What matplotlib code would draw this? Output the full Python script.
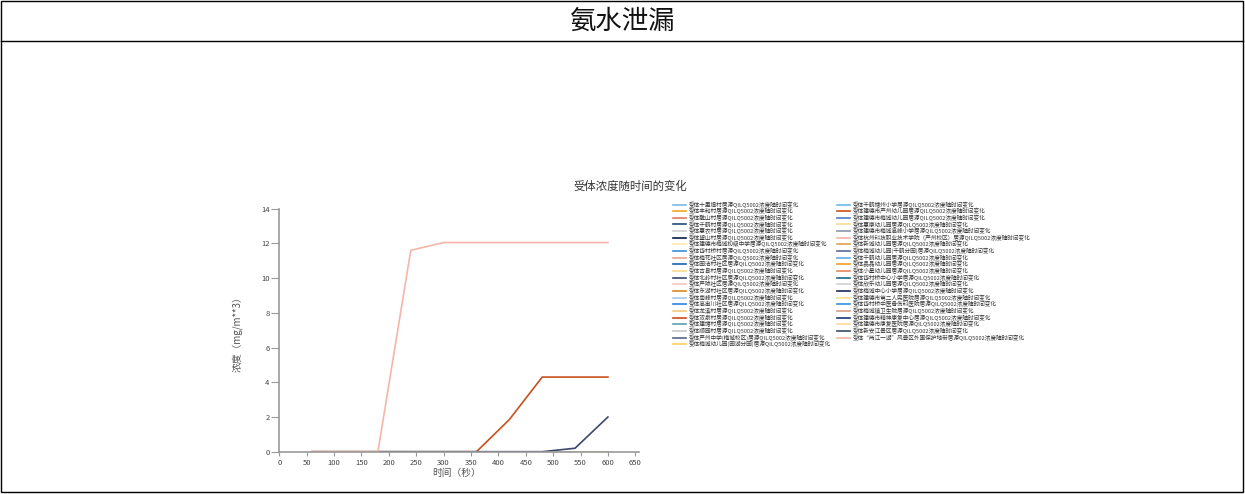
import numpy as np
import matplotlib
matplotlib.use("Agg")
import matplotlib.pyplot as plt
from matplotlib.lines import Line2D
from matplotlib.patches import Rectangle

plt.rcParams['font.family'] = ['Noto Sans CJK SC', 'DejaVu Sans']

# --- Datos ---
page_title = "氨水泄漏"
chart_title = "受体浓度随时间的变化"
x_label = "时间（秒）"
y_label = "浓度（mg/m**3）"

times = [60, 120, 180, 240, 300, 360, 420, 480, 540, 600]

receptors = [
    "十里埠村", "丰和村", "雕山村", "千鹤村", "惠农村", "望山村",
    "建德市梅城初级中学", "岱村桥村", "梅花社区", "园洁村社区", "古县村",
    "北岭村社区", "严陵社区", "东湖村社区", "南峰村", "高串川社区",
    "龙溪村", "双泉村", "建塘村", "顺园村", "严州中学(梅城校区)",
    "梅城幼儿园(园湖分园)",
    "千鹤塘州小学", "建德市严州幼儿园", "建德市梅城幼儿园", "惠康幼儿园",
    "建德市梅城高峰小学", "杭州科技职业技术学院（严州校区）", "新城幼儿园",
    "梅城幼儿园(千鹤分园)", "千鹤幼儿园", "晶晶幼儿园", "小星幼儿园",
    "岱村桥中心小学", "欣乐幼儿园", "梅城中心小学", "建德市第二人民医院",
    "岱村桥中医骨伤科医院", "梅城镇卫生院", "建德市精神康复中心",
    "建德市康复医院", "新安江景区", "“两江一湖”风景区外围保护地带",
]

colors = [
    "#7fb8e8", "#f5a623", "#e07b5a", "#1f4e79", "#cfcfcf", "#0b1a4b",
    "#fde7a8", "#3a8fd9", "#e8a58c", "#1a5fb4", "#f7d98b",
    "#3b4a6b", "#f5c6c0", "#d98a1e", "#a8c8e8", "#2a84e0",
    "#f5c77e", "#d04a1a", "#5aa0b8", "#c8c8c8", "#556688",
    "#f5d060",
    "#6cb8e6", "#c8501e", "#4a7fd0", "#f3dc9a",
    "#8a96a8", "#f3b0a8", "#e0a050",
    "#5a6a9a", "#6aa8e0", "#f5a020", "#e08860",
    "#1a6a8a", "#d0d0d0", "#1a2a5a", "#f8e08a",
    "#3090e0", "#d8a080", "#1a3a7a",
    "#f8dca0", "#3a4a6a", "#f4b6a8",
]

# series distintas de cero
nonzero = {
    "“两江一湖”风景区外围保护地带": [0, 0, 0, 11.6, 12.05, 12.05, 12.05, 12.05, 12.05, 12.05],
    "建德市严州幼儿园": [0, 0, 0, 0, 0, 0, 1.85, 4.3, 4.3, 4.3],
    "新安江景区": [0, 0, 0, 0, 0, 0, 0, 0, 0.2, 2.0],
}

W, H = 1245, 494
fig = plt.figure(figsize=(W / 100, H / 100), dpi=100)

def fx(px):
    return px / W

def fy(py):
    return 1 - py / H

# --- Marco tipo tabla ---
fig.add_artist(Rectangle((fx(1), fy(492)), fx(1242), 491 / H, transform=fig.transFigure,
                         fill=False, edgecolor="black", linewidth=1))
fig.add_artist(Line2D([fx(1), fx(1243)], [fy(41), fy(41)], transform=fig.transFigure,
                      color="black", linewidth=1))
fig.text(fx(622), fy(21), page_title, ha="center", va="center", fontsize=19, color="#111111")

# --- Ejes ---
ax = fig.add_axes([fx(279.3), fy(451.7), 359.3 / W, 243 / H])
for name, col in zip(receptors, colors):
    vals = nonzero.get(name, [0] * len(times))
    ax.plot(times, vals, color=col, linewidth=1.2, label=f"受体{name}居源QILQ5002浓度随时间变化")

ax.set_xlim(0, 656)
ax.set_ylim(0, 14)
ax.set_xticks(np.arange(0, 651, 50))
ax.set_yticks(np.arange(0, 15, 2))
for s in ["top", "right"]:
    ax.spines[s].set_visible(False)
for s in ["left", "bottom"]:
    ax.spines[s].set_color("#999999")
    ax.spines[s].set_linewidth(1.2)
ax.tick_params(axis="y", length=6, width=0.8, color="#999999", labelsize=5.5, labelcolor="#444444", pad=1)
ax.tick_params(axis="x", length=3, width=0.8, color="#999999", labelsize=5.5, labelcolor="#444444", pad=2)
ax.set_facecolor("none")

fig.text(fx(457), fy(473), x_label, ha="center", va="center", fontsize=7, color="#555555")
fig.text(fx(237), fy(332), y_label, ha="center", va="center", fontsize=7, color="#555555", rotation=90)
fig.text(fx(630), fy(186), chart_title, ha="center", va="center", fontsize=8.2, color="#333333")

# --- Leyenda manual en dos columnas ---
n_left = (len(receptors) + 1) // 2
for i, (name, col) in enumerate(zip(receptors, colors)):
    c, r = divmod(i, n_left)
    x0 = 673 if c == 0 else 837
    y0 = 204.5 + r * 6.65
    fig.add_artist(Line2D([fx(x0), fx(x0 + 13)], [fy(y0), fy(y0)], transform=fig.transFigure,
                          color=col, linewidth=1.2))
    fig.text(fx(x0 + 16), fy(y0), f"受体{name}居源QILQ5002浓度随时间变化",
             ha="left", va="center", fontsize=4.1, color="#333333")

fig.savefig("out.png", dpi=100)
